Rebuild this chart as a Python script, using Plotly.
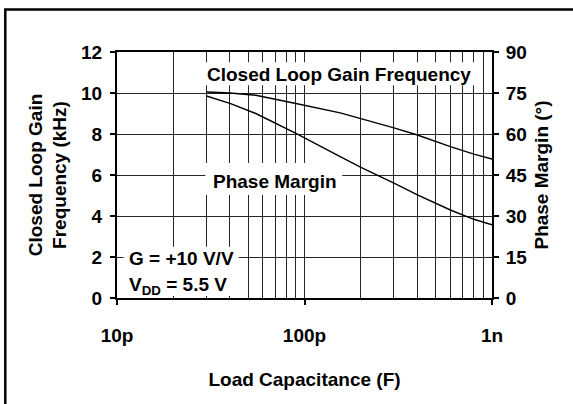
import plotly.graph_objects as go

# ---- data ----
cap_F = [30e-12, 40e-12, 55e-12, 70e-12, 90e-12, 155e-12, 200e-12, 300e-12,
         400e-12, 600e-12, 800e-12, 1000e-12]
gain_kHz = [10.05, 10.0, 9.89, 9.70, 9.49, 9.03, 8.76, 8.30, 7.95, 7.38, 7.02, 6.78]
phase_deg = [73.9, 71.2, 67.5, 63.9, 60.2, 51.7, 47.8, 42.0, 37.7, 32.2, 28.8, 26.8]

x_major = [1e-11, 1e-10, 1e-9]
x_major_text = ["10p", "100p", "1n"]
x_minor = [m * d for d in (1e-11, 1e-10) for m in range(2, 10)]

W, H = 573, 404
L, R, T, B = 116.7, 491.7, 51.7, 298.3
FONT = "Liberation Sans, Arial, sans-serif"
FS = 19


def px(x):
    return (x - L) / (R - L)


def py(y):
    return (B - y) / (B - T)


fig = go.Figure()
fig.add_trace(go.Scatter(x=cap_F, y=gain_kHz, mode="lines", name="Closed Loop Gain Frequency",
                         line=dict(color="black", width=1.4), yaxis="y"))
fig.add_trace(go.Scatter(x=cap_F, y=phase_deg, mode="lines", name="Phase Margin",
                         line=dict(color="black", width=1.4), yaxis="y2"))

grid_col = "#262626"
tf = dict(family=FONT, size=FS, weight="bold", color="black")
fig.update_layout(
    width=W, height=H,
    margin=dict(l=L, r=W - R, t=T, b=H - B, pad=0),
    paper_bgcolor="white", plot_bgcolor="white",
    showlegend=False,
    font=dict(family=FONT, size=FS, color="black", weight="bold"),
    xaxis=dict(
        type="log", range=[-11, -9],
        tickvals=x_major, ticktext=x_major_text,
        ticks="outside", ticklen=5, tickwidth=1.5, tickcolor="black",
        ticklabelstandoff=14,
        showgrid=True, gridcolor=grid_col, gridwidth=1.2,
        minor=dict(tickvals=x_minor, showgrid=True, gridcolor=grid_col, gridwidth=1.2, ticks=""),
        showline=True, linecolor="black", linewidth=2, mirror=True,
        title=dict(text="Load Capacitance (F)", standoff=28, font=tf),
        tickfont=tf,
    ),
    yaxis=dict(
        range=[0, 12], dtick=2, tick0=0,
        ticks="outside", ticklen=5, tickwidth=1.5, tickcolor="black",
        ticklabelstandoff=4,
        showgrid=True, gridcolor=grid_col, gridwidth=1.2, zeroline=False,
        showline=True, linecolor="black", linewidth=2,
        title=dict(text="Closed Loop Gain<br>Frequency (kHz)", standoff=9, font=tf),
        tickfont=tf,
    ),
    yaxis2=dict(
        range=[0, 90], dtick=15, tick0=0, overlaying="y", side="right",
        ticks="outside", ticklen=5, tickwidth=1.5, tickcolor="black",
        ticklabelstandoff=3,
        showgrid=False, zeroline=False,
        showline=True, linecolor="black", linewidth=2,
        title=dict(text="Phase Margin (°)", standoff=8, font=tf),
        tickfont=tf,
    ),
)

# white label boxes that hide the grid
boxes = [(204, 62, 477, 85), (205, 163, 342, 195), (123.3, 247, 238.3, 296.3)]
for x0, y0, x1, y1 in boxes:
    fig.add_shape(type="rect", xref="paper", yref="paper",
                  x0=px(x0), x1=px(x1), y0=py(y1), y1=py(y0),
                  fillcolor="white", line=dict(width=0), layer="above")

# outer frame (top and left edges visible)
fig.add_shape(type="rect", xref="paper", yref="paper",
              x0=px(5), x1=px(640), y0=py(460), y1=py(9),
              line=dict(color="black", width=2.5), fillcolor="rgba(0,0,0,0)", layer="above")

fig.add_annotation(xref="paper", yref="paper", x=px(338.4), y=py(74), text="Closed Loop Gain Frequency",
                   showarrow=False, xanchor="center", yanchor="middle", font=tf)
fig.add_annotation(xref="paper", yref="paper", x=px(275), y=py(182), text="Phase Margin",
                   showarrow=False, xanchor="center", yanchor="middle", font=tf)
fig.add_annotation(xref="paper", yref="paper", x=px(127), y=py(259), text="G = +10 V/V",
                   showarrow=False, xanchor="left", yanchor="middle", font=tf)
fig.add_annotation(xref="paper", yref="paper", x=px(127), y=py(286),
                   text="V<sub>DD</sub> = 5.5 V",
                   showarrow=False, xanchor="left", yanchor="middle", font=tf)

fig.write_html("out.html", config=dict(displayModeBar=False),
               post_script="document.body.style.margin='0px';document.body.style.overflow='hidden';")
